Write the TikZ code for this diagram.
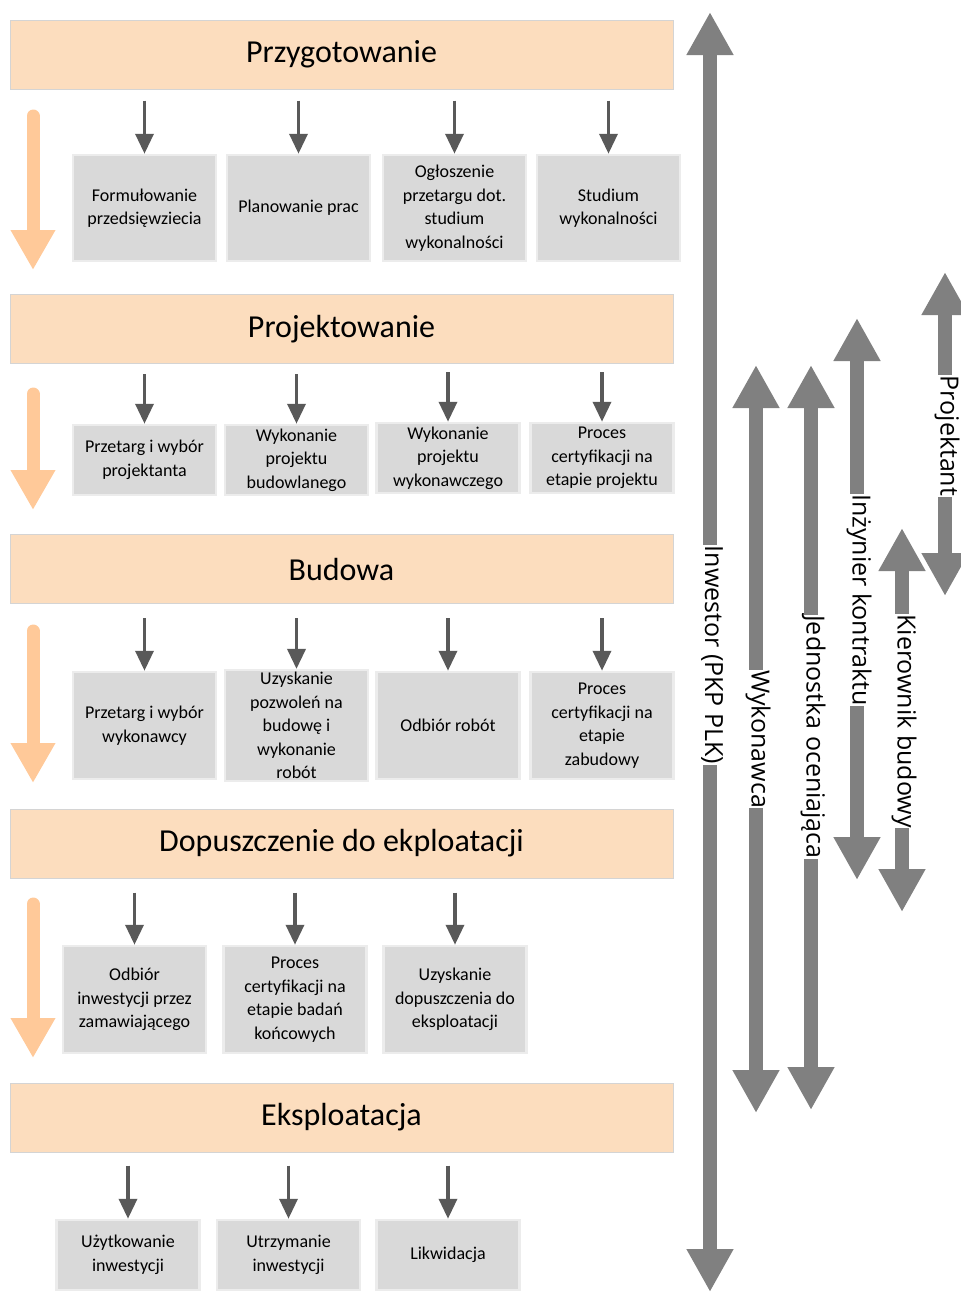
\documentclass[tikz,border=0pt]{standalone}
\usepackage{fontspec}
\setmainfont{Carlito}
\newfontfamily\rolefont{Open Sans}
\usetikzlibrary{arrows.meta}

\definecolor{fazafill}{RGB}{252,221,190}
\definecolor{fazaline}{RGB}{212,212,212}
\definecolor{krokfill}{RGB}{217,217,217}
\definecolor{krokline}{RGB}{236,236,236}
\definecolor{ciemny}{RGB}{89,89,89}
\definecolor{pomarancz}{RGB}{255,201,153}
\definecolor{szary}{RGB}{128,128,128}

\begin{document}
\begin{tikzpicture}[x=1pt,y=-1pt,
  faza/.style={draw=fazaline,line width=1pt,fill=fazafill,minimum width=663pt,minimum height=69pt,font=\fontsize{32}{38}\selectfont},
  krok/.style={draw=krokline,line width=2.5pt,fill=krokfill,minimum width=143pt,align=center,inner sep=2pt,font=\fontsize{18}{23.5}\selectfont},
  strz/.style={draw=ciemny,line width=3.5pt,-{Triangle[width=18pt,length=20pt]}},
  kolej/.style={draw=pomarancz,line width=13pt,line cap=round,-{Triangle[width=42pt,length=40pt]}},
  rola/.style={draw=szary,line width=14pt,{Triangle[width=44pt,length=43pt]}-{Triangle[width=44pt,length=43pt]}},
  opis/.style={fill=white,rotate=-90,inner sep=0.5pt,font=\rolefont\fontsize{25}{30}\selectfont}]
\useasboundingbox (0,0) rectangle (961,1293);

% fazy
\node[faza] (H1) at (341.5,54.5) {Przygotowanie};
\node[faza] (H2) at (341.5,329) {Projektowanie};
\node[faza] (H3) at (341.5,569) {Budowa};
\node[faza] (H4) at (341.5,843.5) {Dopuszczenie do ekploatacji};
\node[faza] (H5) at (341.5,1117.5) {Eksploatacja};

% przygotowanie
\node[krok,minimum height=106pt] (P1) at (144.5,208) {Formułowanie\\przedsięwziecia};
\node[krok,minimum height=106pt] (P2) at (298.5,208) {Planowanie prac};
\node[krok,minimum height=106pt] (P3) at (454.5,208) {Ogłoszenie\\przetargu dot.\\studium\\wykonalności};
\node[krok,minimum height=106pt] (P4) at (608.5,208) {Studium\\wykonalności};

% projektowanie
\node[krok,minimum height=70pt] (R1) at (144.5,460) {Przetarg i wybór\\projektanta};
\node[krok,minimum height=70pt] (R2) at (296.5,460) {Wykonanie\\projektu\\budowlanego};
\node[krok,minimum height=70pt] (R3) at (448,458) {Wykonanie\\projektu\\wykonawczego};
\node[krok,minimum height=70pt] (R4) at (602,458) {Proces\\certyfikacji na\\etapie projektu};

% budowa
\node[krok,minimum height=107pt] (B1) at (144.5,725.5) {Przetarg i wybór\\wykonawcy};
\node[krok,minimum height=107pt] (B2) at (296.5,725.5) {Uzyskanie\\pozwoleń na\\budowę i\\wykonanie\\robót};
\node[krok,minimum height=107pt] (B3) at (448,725.5) {Odbiór robót};
\node[krok,minimum height=107pt] (B4) at (602,725.5) {Proces\\certyfikacji na\\etapie\\zabudowy};

% dopuszczenie
\node[krok,minimum height=107pt] (D1) at (134.5,999.5) {Odbiór\\inwestycji przez\\zamawiającego};
\node[krok,minimum height=107pt] (D2) at (295,999.5) {Proces\\certyfikacji na\\etapie badań\\końcowych};
\node[krok,minimum height=107pt] (D3) at (455,999.5) {Uzyskanie\\dopuszczenia do\\eksploatacji};

% eksploatacja
\node[krok,minimum height=70pt] (E1) at (128,1255) {Użytkowanie\\inwestycji};
\node[krok,minimum height=70pt] (E2) at (288.5,1255) {Utrzymanie\\inwestycji};
\node[krok,minimum height=70pt] (E3) at (448,1255) {Likwidacja};

% strzalki faza -> krok
\draw[strz] ([yshift=-11pt]H1.south -| P1.north) -- (P1.north);
\draw[strz] ([yshift=-11pt]H1.south -| P2.north) -- (P2.north);
\draw[strz] ([yshift=-11pt]H1.south -| P3.north) -- (P3.north);
\draw[strz] ([yshift=-11pt]H1.south -| P4.north) -- (P4.north);
\draw[strz] ([yshift=-10pt]H2.south -| R1.north) -- (R1.north);
\draw[strz] ([yshift=-10pt]H2.south -| R2.north) -- (R2.north);
\draw[strz] ([yshift=-8pt]H2.south -| R3.north) -- (R3.north);
\draw[strz] ([yshift=-8pt]H2.south -| R4.north) -- (R4.north);
\draw[strz] ([yshift=-14pt]H3.south -| B1.north) -- (B1.north);
\draw[strz] ([yshift=-14pt]H3.south -| B2.north) -- (B2.north);
\draw[strz] ([yshift=-14pt]H3.south -| B3.north) -- (B3.north);
\draw[strz] ([yshift=-14pt]H3.south -| B4.north) -- (B4.north);
\draw[strz] ([yshift=-14pt]H4.south -| D1.north) -- (D1.north);
\draw[strz] ([yshift=-14pt]H4.south -| D2.north) -- (D2.north);
\draw[strz] ([yshift=-14pt]H4.south -| D3.north) -- (D3.north);
\draw[strz] ([yshift=-13pt]H5.south -| E1.north) -- (E1.north);
\draw[strz] ([yshift=-13pt]H5.south -| E2.north) -- (E2.north);
\draw[strz] ([yshift=-13pt]H5.south -| E3.north) -- (E3.north);

% kolejnosc etapow
\draw[kolej] (33,116) -- (33,270);
\draw[kolej] (33,394) -- (33,510);
\draw[kolej] (33,631) -- (33,783);
\draw[kolej] (33,904) -- (33,1058);

% uczestnicy
\coordinate (inwT) at (710,12);
\coordinate (inwB) at (710,1292);
\coordinate (wykT) at (756,365);
\coordinate (wykB) at (756,1113);
\coordinate (jedT) at (811,365);
\coordinate (jedB) at (811,1110);
\coordinate (inzT) at (857,318);
\coordinate (inzB) at (857,880);
\coordinate (kieT) at (902,528);
\coordinate (kieB) at (902,912);
\coordinate (proT) at (945,272);
\coordinate (proB) at (945,596);
\draw[rola] (inwT) -- (inwB);
\draw[rola] (wykT) -- (wykB);
\draw[rola] (jedT) -- (jedB);
\draw[rola] (inzT) -- (inzB);
\draw[rola] (kieT) -- (kieB);
\draw[rola] (proT) -- (proB);
\node[opis] (inw) at (712,655) {Inwestor (PKP PLK)};
\node[opis] (wyk) at (758,739) {Wykonawca};
\node[opis] (jed) at (813,737) {Jednostka oceniająca};
\node[opis] (inz) at (859,600) {Inżynier kontraktu};
\node[opis] (kie) at (904,721) {Kierownik budowy};
\node[opis] (pro) at (947,436) {Projektant};
\end{tikzpicture}
\end{document}
